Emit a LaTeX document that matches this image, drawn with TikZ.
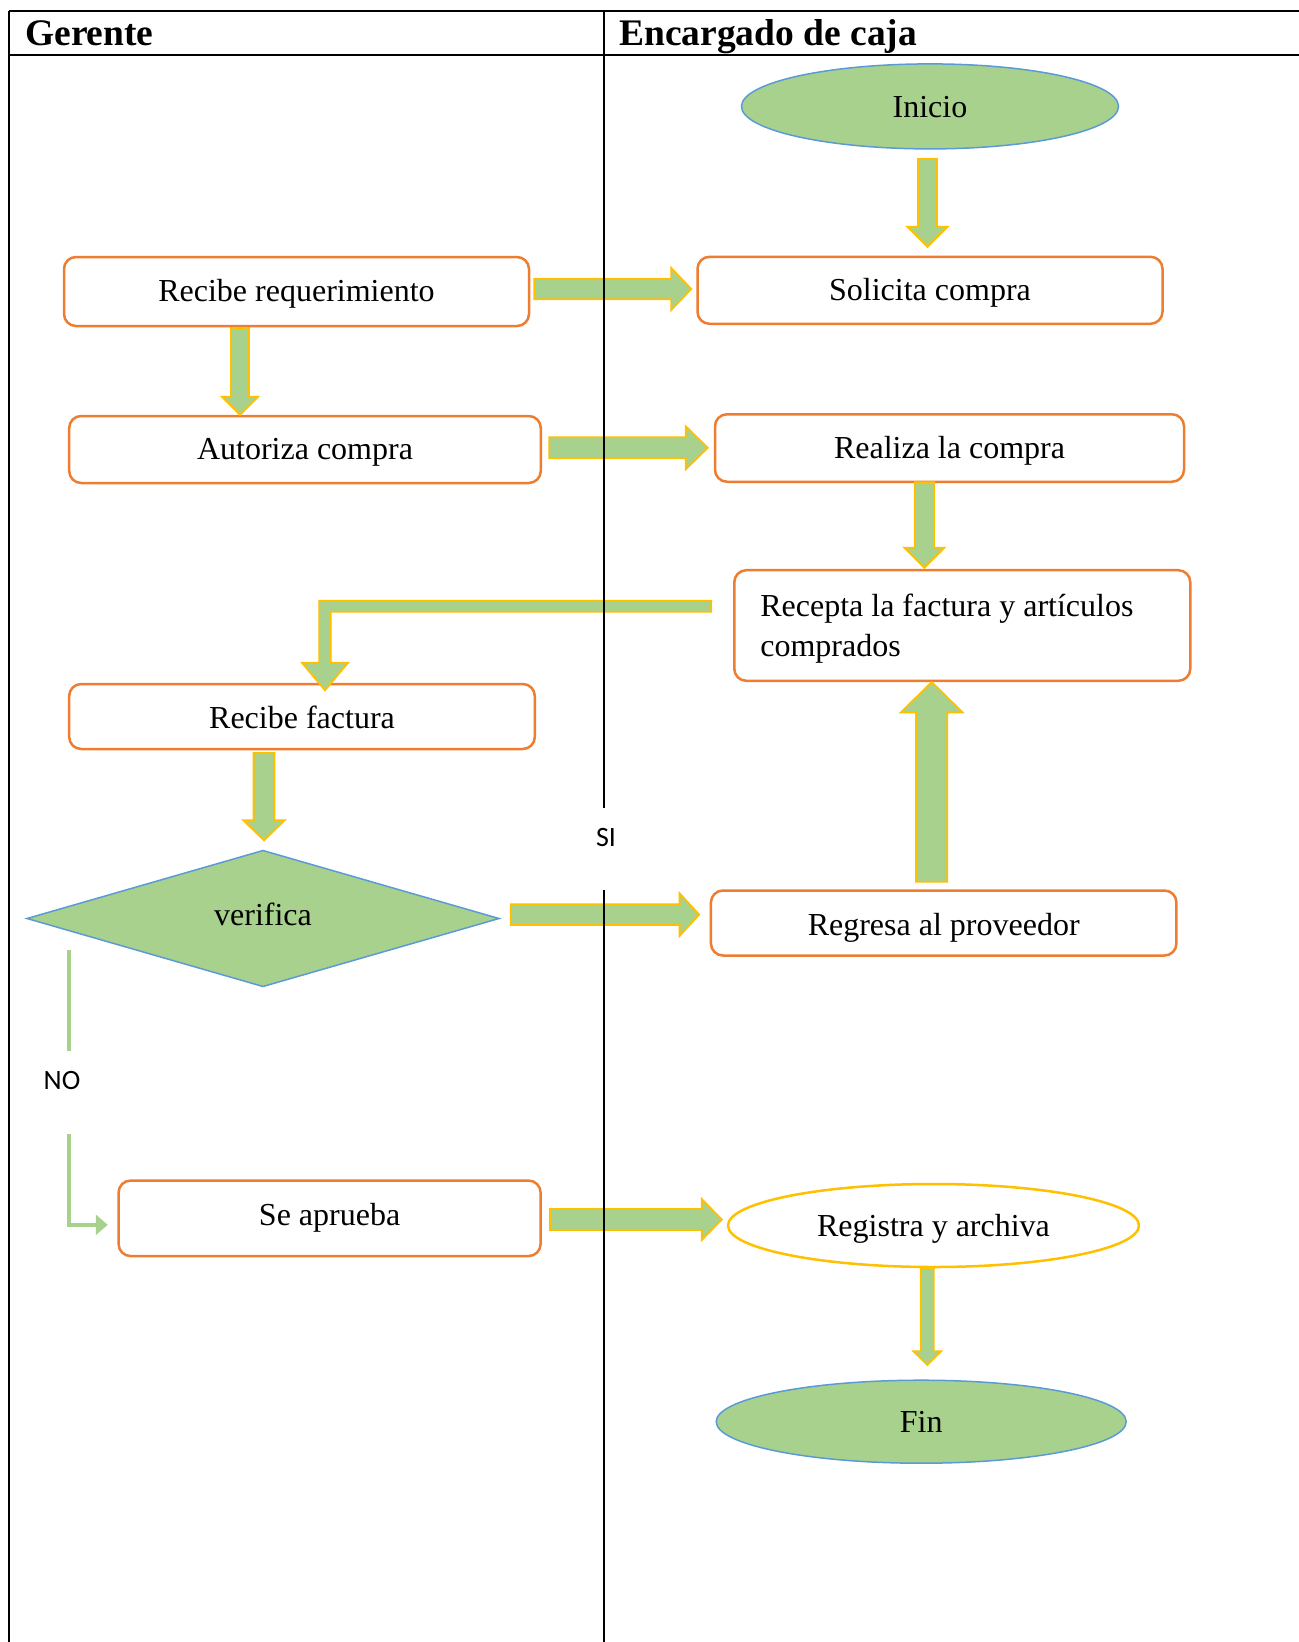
\documentclass[tikz,border=0pt]{standalone}
\usepackage{fontspec}
\setmainfont{Liberation Serif}
\newfontfamily\calfont{Carlito}
\usetikzlibrary{calc,shapes.geometric,arrows.meta}
\definecolor{gfill}{HTML}{A9D18E}
\definecolor{gold}{HTML}{FFC000}
\definecolor{orng}{HTML}{ED7D31}
\definecolor{blu}{HTML}{5B9BD5}
\tikzset{
 procbox/.style={draw=orng, line width=2.5pt, rounded corners=12pt, fill=white, inner sep=0pt, text height=20pt, text depth=0pt, font=\fontsize{32}{40}\selectfont},
 term/.style={ellipse, draw=blu, line width=1.5pt, fill=gfill, inner sep=0pt, text height=22pt, text depth=0pt, font=\fontsize{32}{40}\selectfont},
 blk/.style={draw=gold, fill=gfill, line width=1.8pt, line join=miter},
 lbl/.style={font=\calfont\fontsize{28}{34}\selectfont, fill=white, inner sep=0pt},
 hdr/.style={font=\bfseries\fontsize{37.5}{42}\selectfont, inner sep=0pt, anchor=base west},
 tableline/.style={line width=2pt, black},
 noline/.style={draw=gfill, line width=4.5pt, -{Triangle[width=20pt,length=12pt]}},
}
\newcommand\blkarrow[5]{%
  \coordinate (hb) at ($(#2)!#5!(#1)$);
  \draw[blk] ($(#1)!#3!90:(#2)$) -- ($(hb)!#3!90:(#2)$) -- ($(hb)!#4!90:(#2)$) -- (#2)
     -- ($(hb)!#4!-90:(#2)$) -- ($(hb)!#3!-90:(#2)$) -- ($(#1)!#3!-90:(#2)$) -- cycle;}
\begin{document}
\begin{tikzpicture}[x=1pt,y=-1pt]
\useasboundingbox (0,0) rectangle (1299,1642);
\fill[white] (0,0) rectangle (1299,1642);

% nodes
\node[term, minimum width=377pt, minimum height=85pt, text height=23pt] (ini) at (930,106.4) {Inicio};
\node[procbox, minimum width=465pt, minimum height=69pt] (req) at (296.5,291.5) {Recibe requerimiento};
\node[procbox, minimum width=465pt, minimum height=67pt] (sol) at (930,290.3) {Solicita compra};
\node[procbox, minimum width=471.6pt, minimum height=67pt] (aut) at (305,449.5) {Autoriza compra};
\node[procbox, minimum width=469pt, minimum height=67.5pt] (rea) at (949.5,448) {Realiza la compra};
\node[procbox, minimum width=456pt, minimum height=110.6pt, text width=404pt, align=flush left, text height=21pt, text depth=40pt] (rec) at (962.3,625.5) {Recepta la factura y artículos\\comprados};
\node[procbox, minimum width=465.6pt, minimum height=65pt, text height=23pt] (fac) at (302,716.5) {Recibe factura};
\node[diamond, draw=blu, line width=1.5pt, fill=gfill, minimum width=472.6pt, minimum height=136.6pt, inner sep=0pt, text height=14pt, text depth=0pt, font=\fontsize{32}{40}\selectfont] (ver) at (263,918.5) {verifica};
\node[procbox, minimum width=465.5pt, minimum height=65pt, text height=24pt] (reg) at (943.7,923) {Regresa al proveedor};
\node[procbox, minimum width=422pt, minimum height=75.5pt, text height=13.4pt] (apr) at (329.6,1218.3) {Se aprueba};
\node[ellipse, draw=gold, line width=2.5pt, fill=white, inner sep=0pt, minimum width=411pt, minimum height=83pt, text height=21pt, text depth=0pt, font=\fontsize{32}{40}\selectfont] (arc) at (933.5,1225.5) {Registra y archiva};
\node[term, minimum width=410pt, minimum height=83pt] (fin) at (921.2,1421.7) {Fin};

% connector end points
\coordinate (a1s) at ($(ini.south)+(-2.5,9)$);
\coordinate (a1e) at ($(sol.north)+(-2.5,-8.8)$);
\coordinate (a2s) at ($(req.east)+(4,-2.5)$);
\coordinate (a2e) at ($(sol.west)+(-5,-1.3)$);
\coordinate (a3s) at ($(req.south)+(-56.5,0.7)$);
\coordinate (a3e) at ($(aut.north)+(-65,0)$);
\coordinate (a4s) at ($(aut.east)+(7.2,-1.7)$);
\coordinate (a4e) at ($(rea.west)+(-6,-0.2)$);
\coordinate (a5s) at ($(rea.south)+(-25,-0.7)$);
\coordinate (a5e) at ($(rec.north)+(-38,-1.2)$);
\coordinate (a6s) at ($(rec.west)+(-21.8,-19.3)$);
\coordinate (a6e) at ($(fac.north)+(23,7.5)$);
\coordinate (a7s) at ($(fac.south)+(-38,2.7)$);
\coordinate (a7e) at ($(ver.north)+(1,-9.2)$);
\coordinate (a8s) at ($(ver.east)+(10.7,-3.9)$);
\coordinate (a8e) at ($(reg.west)+(-10.6,-8.4)$);
\coordinate (a9s) at ($(reg.north)+(-12,-7.5)$);
\coordinate (a9e) at ($(rec.south)+(-30.6,0)$);
\coordinate (a10s) at ($(apr.east)+(8.1,1.2)$);
\coordinate (a10e) at ($(arc.west)+(-5,-6)$);
\coordinate (a11s) at ($(arc.south)+(-6.2,0)$);
\coordinate (a11e) at ($(fin.north)+(6.1,-14.5)$);
\coordinate (nos) at ($(ver.west)+(42.8,31.5)$);
\coordinate (noe) at ($(apr.west)+(-9.6,6.5)$);

% block arrows
\blkarrow{a1s}{a1e}{9.5pt}{20pt}{20pt}
\blkarrow{a2s}{a2e}{10.3pt}{21pt}{20pt}
\blkarrow{a3s}{a3e}{9pt}{18pt}{18pt}
\blkarrow{a4s}{a4e}{10.5pt}{21.5pt}{22pt}
\blkarrow{a5s}{a5e}{9.7pt}{20pt}{20pt}
\draw[blk] let \p1=(a6s), \p2=(a6e) in
  (\x1,{\y1+5.5pt}) -- ({\x2-5.8pt},{\y1+5.5pt}) -- ({\x2-5.8pt},{\y2+27.5pt})
  -- ({\x2-23pt},{\y2+27.5pt}) -- (\x2,\y2) -- ({\x2+23pt},{\y2+27.5pt})
  -- ({\x2+5.8pt},{\y2+27.5pt}) -- ({\x2+5.8pt},{\y1-5.5pt}) -- (\x1,{\y1-5.5pt}) -- cycle;
\blkarrow{a7s}{a7e}{10.4pt}{20.7pt}{20pt}
\blkarrow{a8s}{a8e}{10.3pt}{21.3pt}{19.5pt}
\blkarrow{a9s}{a9e}{15.6pt}{31pt}{30.5pt}
\blkarrow{a10s}{a10e}{10.5pt}{20.5pt}{20pt}
\blkarrow{a11s}{a11e}{6.5pt}{13.8pt}{13.7pt}
\draw[noline] (nos) |- (noe);

% table
\draw[tableline] (9,11) -- (1299,11);
\draw[tableline] (9,54.5) -- (1299,54.5);
\draw[tableline] (9,11) -- (9,1642);
\draw[tableline] (604,11) -- (604,1642);
\node[hdr] (hg) at (25,45.7) {Gerente};
\node[hdr] (he) at (619,45.7) {Encargado de caja};

% labels
\node[lbl, text height=39pt, text depth=43.3pt, minimum width=40pt] (si) at (606,848.85) {SI};
\node[lbl, text height=38.7pt, text depth=44.3pt, minimum width=44pt] (no) at (62,1092.5) {NO};
\end{tikzpicture}
\end{document}
